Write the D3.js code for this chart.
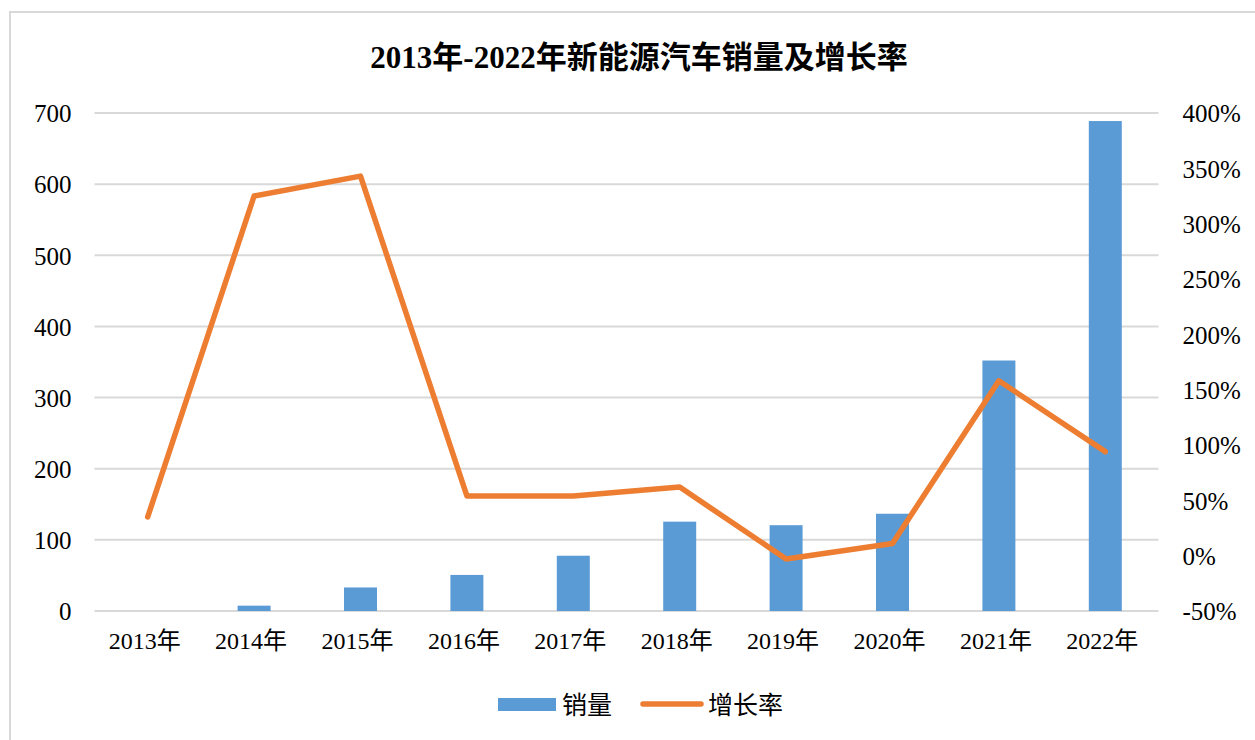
<!DOCTYPE html>
<html>
<head>
<meta charset="utf-8">
<script src="https://cdn.jsdelivr.net/npm/d3@7"></script>
<style>
  html, body { margin: 0; padding: 0; background: #fff; }
  svg { display: block; }
  text { font-family: "Liberation Serif", "Noto Sans CJK SC", serif; fill: #000; }
</style>
</head>
<body>
<svg id="chart" width="1255" height="740"></svg>
<script>
const title = "2013年-2022年新能源汽车销量及增长率";
const years = ["2013年","2014年","2015年","2016年","2017年","2018年","2019年","2020年","2021年","2022年"];
const sales = [0, 7.5, 33.1, 50.7, 77.7, 125.6, 120.6, 136.7, 352.1, 688.7];
const growth = [35, 325, 343, 54, 54, 62, -3, 11, 158, 94];
const leftTicks = [0, 100, 200, 300, 400, 500, 600, 700];
const rightTicks = [-50, 0, 50, 100, 150, 200, 250, 300, 350, 400];
const seriesNames = ["销量", "增长率"];
const colors = { bar: "#5B9BD5", line: "#ED7D31", grid: "#D9D9D9", border: "#D9D9D9" };

const svg = d3.select("#chart");

// border
svg.append("rect")
  .attr("x", 10).attr("y", 12).attr("width", 1270).attr("height", 760)
  .attr("fill", "none").attr("stroke", colors.border).attr("stroke-width", 2);

// title
svg.append("text")
  .attr("x", 639).attr("y", 68)
  .attr("text-anchor", "middle")
  .attr("font-size", 31).attr("font-weight", "bold")
  .text(title);

const plot = { left: 94.5, right: 1158.5, top: 113, bottom: 611 };

const x = d3.scaleBand().domain(years).range([plot.left, plot.right]).paddingInner(0).paddingOuter(0);
const yL = d3.scaleLinear().domain([0, 700]).range([plot.bottom, plot.top]);
const yR = d3.scaleLinear().domain([-50, 400]).range([plot.bottom, plot.top]);

// gridlines
svg.append("g").selectAll("line").data(leftTicks).join("line")
  .attr("x1", plot.left).attr("x2", plot.right)
  .attr("y1", d => yL(d)).attr("y2", d => yL(d))
  .attr("stroke", colors.grid).attr("stroke-width", 2);

// left axis labels
const axL = svg.append("g").attr("transform", `translate(${plot.left - 23},0)`)
  .call(d3.axisLeft(yL).tickValues(leftTicks).tickSize(0).tickPadding(0).tickFormat(d3.format("d")));
axL.select(".domain").remove();
axL.selectAll("text").attr("font-size", 25).attr("font-family", null).attr("fill", "#000").attr("dy", "0.35em");

// right axis labels
const axR = svg.append("g").attr("transform", `translate(${plot.right + 24},0)`)
  .call(d3.axisRight(yR).tickValues(rightTicks).tickSize(0).tickPadding(0).tickFormat(d => d + "%"));
axR.select(".domain").remove();
axR.selectAll("text").attr("font-size", 25).attr("font-family", null).attr("fill", "#000").attr("dy", "0.35em");

// x axis labels
const axX = svg.append("g").attr("transform", `translate(0,${plot.bottom + 21})`)
  .call(d3.axisBottom(x).tickSize(0).tickPadding(0));
axX.select(".domain").remove();
axX.selectAll("text").attr("font-size", 24).attr("font-family", null).attr("fill", "#000").attr("dy", "0.71em")
  .attr("dx", -3);

// bars
const barW = x.step() * 0.31;
svg.append("g").selectAll("rect").data(years).join("rect")
  .attr("x", (d) => x(d) + x.bandwidth() / 2 - barW / 2)
  .attr("width", barW)
  .attr("y", (d, i) => yL(sales[i]))
  .attr("height", (d, i) => yL(0) - yL(sales[i]))
  .attr("fill", colors.bar);

// line
const line = d3.line()
  .x((d, i) => x(years[i]) + x.bandwidth() / 2)
  .y(d => yR(d));
svg.append("path").datum(growth)
  .attr("d", line)
  .attr("fill", "none").attr("stroke", colors.line).attr("stroke-width", 5.5)
  .attr("stroke-linejoin", "round").attr("stroke-linecap", "round");

// legend
const lg = svg.append("g");
lg.append("rect").attr("x", 498).attr("y", 698).attr("width", 58).attr("height", 13).attr("fill", colors.bar);
lg.append("text").attr("x", 562).attr("y", 714).attr("font-size", 25).text(seriesNames[0]);
lg.append("line").attr("x1", 643).attr("x2", 701).attr("y1", 704).attr("y2", 704)
  .attr("stroke", colors.line).attr("stroke-width", 5.5).attr("stroke-linecap", "round");
lg.append("text").attr("x", 708).attr("y", 714).attr("font-size", 25).text(seriesNames[1]);
</script>
</body>
</html>
